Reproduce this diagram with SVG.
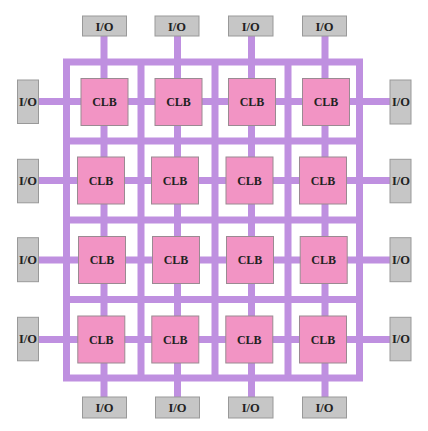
<svg xmlns="http://www.w3.org/2000/svg" width="428" height="431" viewBox="0 0 428 431">
<style>
.w{stroke:#bf90e0;stroke-width:7;fill:none}
.clb{fill:#f294c4;stroke:#9a8a92;stroke-width:1}
.io{fill:#c6c6c6;stroke:#999;stroke-width:1}
.t{font-family:"Liberation Serif","Times New Roman",serif;font-weight:bold;font-size:12px;fill:#222;text-anchor:middle;dominant-baseline:central}
.ti{font-family:"Liberation Serif","Times New Roman",serif;font-weight:bold;font-size:12.5px;fill:#222;text-anchor:middle;dominant-baseline:central}
</style>
<rect width="428" height="431" fill="#fff"/>
<g id="connectors">
<rect class="w" x="66.5" y="62" width="293" height="316"/>
<path class="w" d="M141 62V378M215 62V378M288 62V378M66.5 141H359.5M66.5 220H359.5M66.5 299.5H359.5"/>
<path class="w" d="M104 36V397M177.5 36V397M251.5 36V397M325 36V397"/>
<path class="w" d="M38 101.5H390M38 180.5H390M38 260H390M38 339.5H390"/>
</g>
<g id="clb11"><rect class="clb" x="81" y="78.5" width="47" height="47"/><text class="t" x="104.5" y="102">CLB</text></g>
<g id="clb12"><rect class="clb" x="155" y="78.5" width="47" height="47"/><text class="t" x="178.5" y="102">CLB</text></g>
<g id="clb13"><rect class="clb" x="228.5" y="78.5" width="47" height="47"/><text class="t" x="252" y="102">CLB</text></g>
<g id="clb14"><rect class="clb" x="302.5" y="78.5" width="47" height="47"/><text class="t" x="326" y="102">CLB</text></g>
<g id="clb21"><rect class="clb" x="77.5" y="157" width="47" height="47"/><text class="t" x="101" y="180.5">CLB</text></g>
<g id="clb22"><rect class="clb" x="151.5" y="157" width="47" height="47"/><text class="t" x="175" y="180.5">CLB</text></g>
<g id="clb23"><rect class="clb" x="226" y="157" width="47" height="47"/><text class="t" x="249.5" y="180.5">CLB</text></g>
<g id="clb24"><rect class="clb" x="299.5" y="157" width="47" height="47"/><text class="t" x="323" y="180.5">CLB</text></g>
<g id="clb31"><rect class="clb" x="78.5" y="236.5" width="47" height="47"/><text class="t" x="102" y="260">CLB</text></g>
<g id="clb32"><rect class="clb" x="152.5" y="236.5" width="47" height="47"/><text class="t" x="176" y="260">CLB</text></g>
<g id="clb33"><rect class="clb" x="226.5" y="236.5" width="47" height="47"/><text class="t" x="250" y="260">CLB</text></g>
<g id="clb34"><rect class="clb" x="300.2" y="236.5" width="47" height="47"/><text class="t" x="323.7" y="260">CLB</text></g>
<g id="clb41"><rect class="clb" x="77.8" y="316" width="47" height="47"/><text class="t" x="101.3" y="339.5">CLB</text></g>
<g id="clb42"><rect class="clb" x="151.8" y="316" width="47" height="47"/><text class="t" x="175.3" y="339.5">CLB</text></g>
<g id="clb43"><rect class="clb" x="225.8" y="316" width="47" height="47"/><text class="t" x="249.3" y="339.5">CLB</text></g>
<g id="clb44"><rect class="clb" x="299.5" y="316" width="47" height="47"/><text class="t" x="323" y="339.5">CLB</text></g>
<g id="io_t1"><rect class="io" x="82.5" y="16" width="44" height="20"/><text class="ti" x="104.5" y="26.5">I/O</text></g>
<g id="io_t2"><rect class="io" x="155" y="16" width="44" height="20"/><text class="ti" x="177" y="26.5">I/O</text></g>
<g id="io_t3"><rect class="io" x="228.5" y="16" width="44.5" height="20"/><text class="ti" x="250.7" y="26.5">I/O</text></g>
<g id="io_t4"><rect class="io" x="302.5" y="16" width="44" height="20"/><text class="ti" x="324.5" y="26.5">I/O</text></g>
<g id="io_b1"><rect class="io" x="82.5" y="397" width="44" height="21"/><text class="ti" x="104.5" y="407.5">I/O</text></g>
<g id="io_b2"><rect class="io" x="155.5" y="397" width="44" height="21"/><text class="ti" x="177.5" y="407.5">I/O</text></g>
<g id="io_b3"><rect class="io" x="228.5" y="397" width="44.5" height="21"/><text class="ti" x="250.7" y="407.5">I/O</text></g>
<g id="io_b4"><rect class="io" x="302.5" y="397" width="44" height="21"/><text class="ti" x="324.5" y="407.5">I/O</text></g>
<g id="io_l1"><rect class="io" x="17.5" y="80" width="21" height="43.5"/><text class="ti" x="28" y="101.7">I/O</text></g>
<g id="io_l2"><rect class="io" x="17.5" y="159.3" width="21" height="43.5"/><text class="ti" x="28" y="181">I/O</text></g>
<g id="io_l3"><rect class="io" x="17.5" y="237.7" width="21" height="44"/><text class="ti" x="28" y="259.7">I/O</text></g>
<g id="io_l4"><rect class="io" x="17.5" y="317.3" width="21" height="43.5"/><text class="ti" x="28" y="339">I/O</text></g>
<g id="io_r1"><rect class="io" x="390" y="80" width="21" height="44"/><text class="ti" x="401" y="102">I/O</text></g>
<g id="io_r2"><rect class="io" x="390" y="159.3" width="21" height="43.5"/><text class="ti" x="401" y="181">I/O</text></g>
<g id="io_r3"><rect class="io" x="390" y="237.7" width="21" height="44"/><text class="ti" x="401" y="259.7">I/O</text></g>
<g id="io_r4"><rect class="io" x="390" y="317.3" width="21" height="43.5"/><text class="ti" x="401" y="339">I/O</text></g>
</svg>
